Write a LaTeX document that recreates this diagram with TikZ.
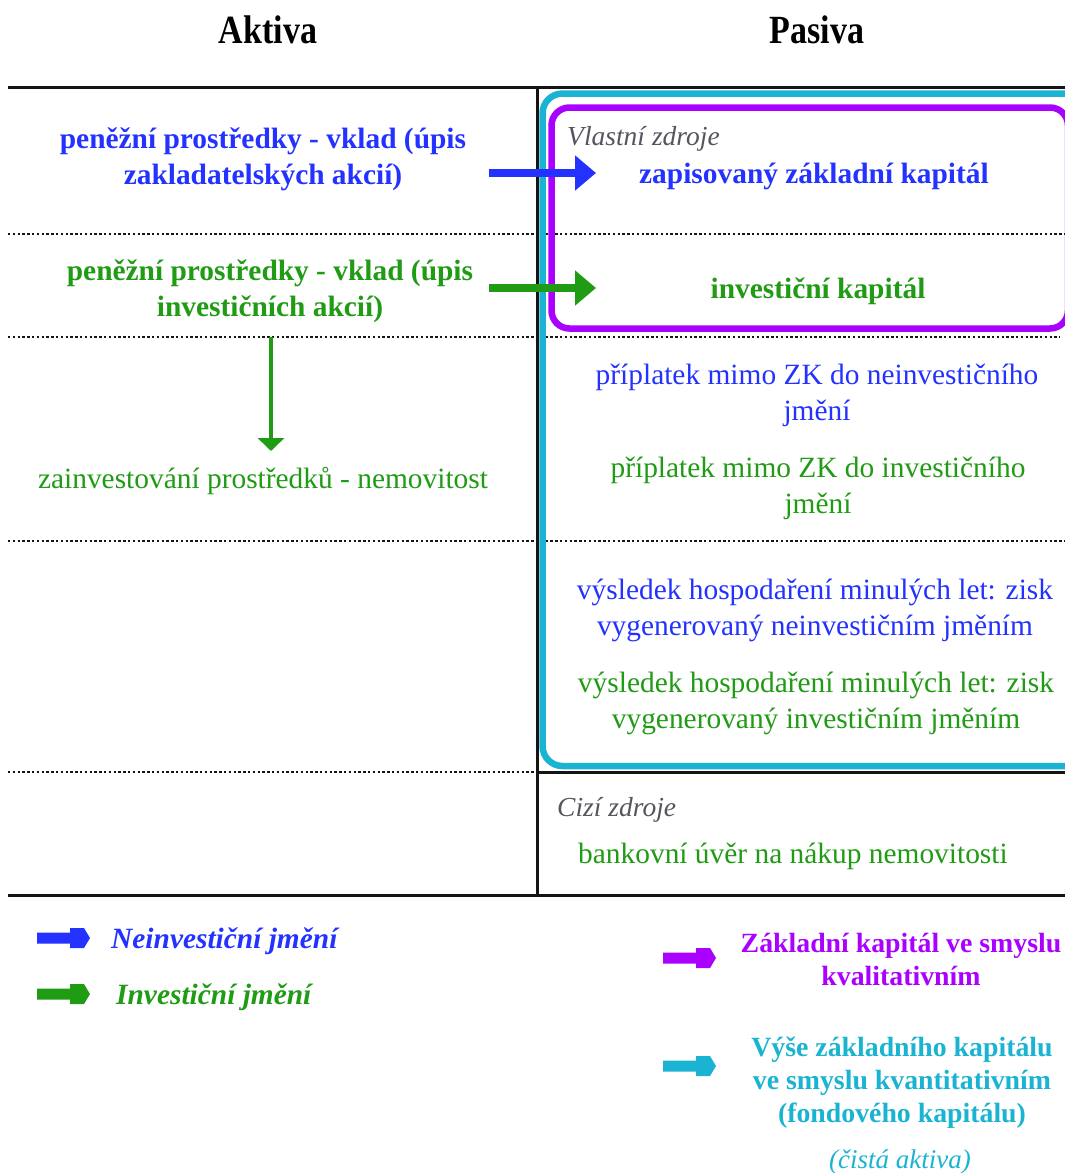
\documentclass[tikz,border=0pt]{standalone}
\usepackage{fontspec}
\setmainfont{Liberation Serif}
\newfontfamily\headfont[FakeStretch=0.85]{Liberation Serif}
\usetikzlibrary{arrows.meta}
\definecolor{cblue}{RGB}{35,50,255}
\definecolor{cgreen}{RGB}{32,155,20}
\definecolor{cpurple}{RGB}{170,0,255}
\definecolor{cteal}{RGB}{26,180,210}
\definecolor{cgray}{RGB}{85,85,95}
\definecolor{cline}{RGB}{20,20,20}
\begin{document}
\begin{tikzpicture}[x=1pt,y=-1pt,
  txt/.style={inner sep=0pt, align=center, font=\fontsize{29.4}{36}\selectfont},
  btxt/.style={inner sep=0pt, align=center, font=\fontsize{29.4}{36}\selectfont\bfseries},
  itxt/.style={inner sep=0pt, anchor=west, text=cgray, font=\fontsize{27.5}{32}\selectfont\itshape},
  head/.style={inner sep=0pt, font=\headfont\fontsize{40}{44}\selectfont\bfseries},
  legtxt/.style={inner sep=0pt, anchor=west, font=\fontsize{29.4}{34}\selectfont\bfseries\itshape},
  legtxtr/.style={inner sep=0pt, align=center, font=\fontsize{27.8}{33}\selectfont\bfseries},
  solidline/.style={cline, line width=3pt},
  dotline/.style={cline, line width=2.4pt, dash pattern=on 2.4pt off 2.4pt},
  bigarrow/.style={line width=8pt, -{Triangle[length=21pt,width=34pt]}},
  downarrow/.style={line width=4pt, -{Triangle[length=13pt,width=26pt]}},
  legarrow/.pic={\fill (0,-5.5) -- (33,-5.5) -- (33,-10) -- (47,-10) -- (53,0) -- (47,10) -- (33,10) -- (33,5.5) -- (0,5.5) -- cycle;}
]
\clip (0,0) rectangle (1065,1173);
\fill[white] (0,0) rectangle (1065,1173);

% headings
\node[head] (aktiva) at (268,30) {Aktiva};
\node[head] (pasiva) at (817,30) {Pasiva};

% grid lines
\draw[dotline] (8,234) -- (1065,234);
\draw[dotline] (8,337) -- (1060,337);
\draw[dotline] (8,541) -- (1065,541);
\draw[dotline] (8,772) -- (537,772);
\draw[solidline] (8,87) -- (1065,87);
\draw[solidline] (8,895) -- (1065,895);
\draw[solidline] (537,87) -- (537,895);
\draw[solidline] (537,772) -- (1065,772);

% boxes
\draw[cteal, line width=6.5pt, rounded corners=20pt] (542.5,93.5) rectangle (1090,766);
\draw[cpurple, line width=6.5pt, rounded corners=18pt] (551.5,107.5) rectangle (1068,328.5);

% left column
\node[btxt, text=cblue] (vkladz) at (263,159) {peněžní prostředky - vklad (úpis\\zakladatelských akcií)};
\node[btxt, text=cgreen] (vkladi) at (270,291) {peněžní prostředky - vklad (úpis\\investičních akcií)};
\node[txt, text=cgreen] (nemov) at (263,481) {zainvestování prostředků - nemovitost};

% right column
\node[itxt] (vlastni) at (567,139) {Vlastní zdroje};
\node[btxt, text=cblue] (zzk) at (814,176) {zapisovaný základní kapitál};
\node[btxt, text=cgreen] (ik) at (818,291) {investiční kapitál};
\node[txt, text=cblue] (pn) at (817,395) {příplatek mimo ZK do neinvestičního\\jmění};
\node[txt, text=cgreen] (pi) at (818,488) {příplatek mimo ZK do investičního\\jmění};
\node[txt, text=cblue] (vn) at (815,610) {výsledek hospodaření minulých let: zisk\\vygenerovaný neinvestičním jměním};
\node[txt, text=cgreen] (vi) at (816,703) {výsledek hospodaření minulých let: zisk\\vygenerovaný investičním jměním};
\node[itxt] (cizi) at (557,810) {Cizí zdroje};
\node[txt, anchor=west, text=cgreen] (uver) at (578,856) {bankovní úvěr na nákup nemovitosti};

% arrows
\coordinate (a1s) at (489,173);
\coordinate (a1e) at (596,173);
\coordinate (a2s) at (489,288);
\coordinate (a2e) at (596,288);
\coordinate (a3s) at (271,337);
\coordinate (a3e) at (271,451);
\draw[bigarrow, cblue] (a1s) -- (a1e);
\draw[bigarrow, cgreen] (a2s) -- (a2e);
\draw[downarrow, cgreen] (a3s) -- (a3e);

% legend
\pic[cblue] (lg1) at (37,938) {legarrow};
\node[legtxt, text=cblue] (lt1) at (111,941) {Neinvestiční jmění};
\pic[cgreen] (lg2) at (37,994) {legarrow};
\node[legtxt, text=cgreen] (lt2) at (116,997) {Investiční jmění};
\pic[cpurple] (lg3) at (663,958) {legarrow};
\node[legtxtr, text=cpurple] (lt3) at (901,959) {Základní kapitál ve smyslu\\kvalitativním};
\pic[cteal] (lg4) at (663,1066) {legarrow};
\node[legtxtr, text=cteal] (lt4) at (902,1083) {Výše základního kapitálu\\ve smyslu kvantitativním\\(fondového kapitálu)};
\node[inner sep=0pt, text=cteal, font=\fontsize{27}{32}\selectfont\itshape] (lt5) at (900,1162) {(čistá aktiva)};
\end{tikzpicture}
\end{document}
